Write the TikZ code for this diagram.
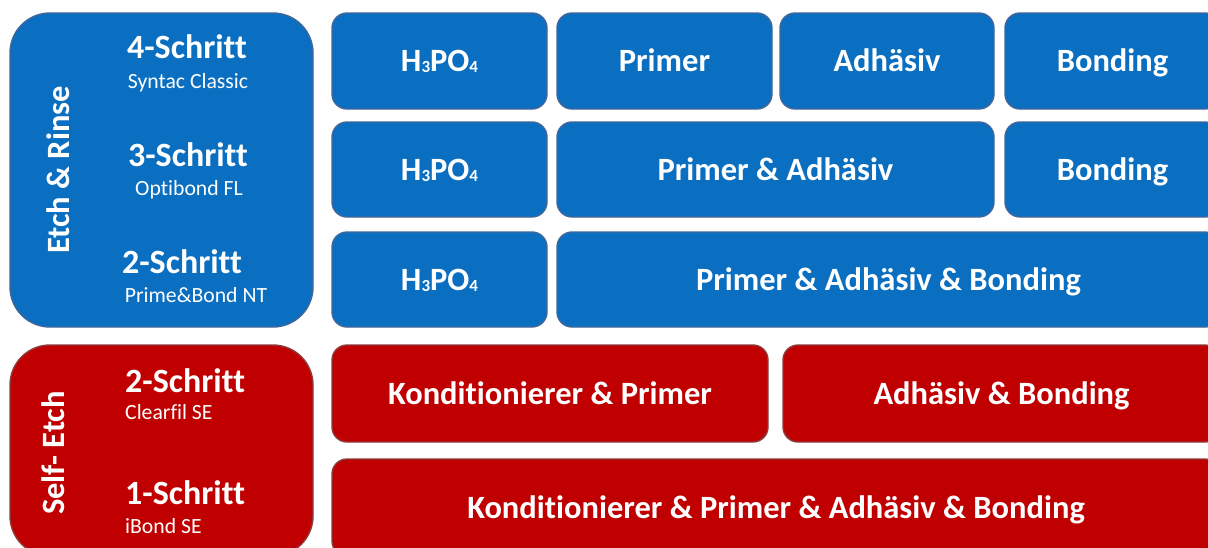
\documentclass[tikz,border=0pt]{standalone}
\usepackage{fontspec}
\setmainfont[Ligatures=NoCommon]{Carlito}
\definecolor{bfill}{HTML}{0B6FC1}
\definecolor{bline}{HTML}{41679A}
\definecolor{rfill}{HTML}{C00000}
\definecolor{rline}{HTML}{8E3B3B}
\newcommand{\hpo}{H\raisebox{-1pt}{\fontsize{17}{18}\selectfont 3}PO\raisebox{-1pt}{\fontsize{17}{18}\selectfont 4}}
\tikzset{
  boxbase/.style={rectangle, line width=1.4pt, inner sep=0pt, text=white,
    font=\fontsize{32.5}{34}\selectfont\bfseries, text height=21.5pt, text depth=0pt},
  bluebox/.style={boxbase, fill=bfill, draw=bline, rounded corners=15pt},
  redbox/.style={boxbase, fill=rfill, draw=rline, rounded corners=15pt},
  bigblue/.style={rectangle, line width=1.4pt, fill=bfill, draw=bline, rounded corners=40pt},
  bigred/.style={rectangle, line width=1.4pt, fill=rfill, draw=rline, rounded corners=40pt},
  head/.style={text=white, inner sep=0pt, anchor=base, font=\fontsize{34}{36}\selectfont\bfseries},
  sub/.style={text=white, inner sep=0pt, anchor=base, font=\fontsize{21.7}{23}\selectfont},
  vert/.style={text=white, inner sep=0pt, rotate=90, font=\fontsize{32.5}{34}\selectfont\bfseries},
}
\begin{document}
\begin{tikzpicture}[x=1pt,y=-1pt]
\useasboundingbox (0,0) rectangle (1208,547);
\clip (0,0) rectangle (1208,547);
\fill[white] (0,0) rectangle (1208,547);
% left group boxes
\draw[bigblue] (10,13) rectangle (313,327);
\node[inner sep=0pt, minimum width=303pt, minimum height=314pt] (er) at (161.5,170) {};
\draw[bigred] (10,345) rectangle (313,556);
\node[inner sep=0pt, minimum width=303pt, minimum height=211pt] (se) at (161.5,450.5) {};
\node[vert] (erlab) at (58,170) {Etch \& Rinse};
\node[vert] (selab) at (53,453) {Self- Etch};
\node[head] (s4) at (187,58) {4-Schritt};
\node[sub]  (s4p) at (188,88) {Syntac Classic};
\node[head] (s3) at (188,166) {3-Schritt};
\node[sub]  (s3p) at (189,195) {Optibond FL};
\node[head] (s2) at (182,273) {2-Schritt};
\node[sub]  (s2p) at (196,302) {Prime\&Bond NT};
\node[head, anchor=base west] (r2) at (125,392) {2-Schritt};
\node[sub, anchor=base west]  (r2p) at (125,419) {Clearfil SE};
\node[head, anchor=base west] (r1) at (125,504) {1-Schritt};
\node[sub, anchor=base west]  (r1p) at (125,533) {iBond SE};
% row 1
\node[bluebox, minimum width=215pt, minimum height=96pt] (a1) at (439.5,61) {\hpo};
\node[bluebox, minimum width=215pt, minimum height=96pt] (a2) at (664.5,61) {Primer};
\node[bluebox, minimum width=214pt, minimum height=96pt] (a3) at (887,61) {Adhäsiv};
\node[bluebox, minimum width=215pt, minimum height=96pt] (a4) at (1112.5,61) {Bonding};
% row 2
\node[bluebox, minimum width=215pt, minimum height=95pt] (b1) at (439.5,169.5) {\hpo};
\node[bluebox, minimum width=437pt, minimum height=95pt] (b2) at (775.5,169.5) {Primer \& Adhäsiv};
\node[bluebox, minimum width=215pt, minimum height=95pt] (b3) at (1112.5,169.5) {Bonding};
% row 3
\node[bluebox, minimum width=215pt, minimum height=95pt] (c1) at (439.5,279.5) {\hpo};
\node[bluebox, minimum width=663pt, minimum height=95pt] (c2) at (888.5,279.5) {Primer \& Adhäsiv \& Bonding};
% red row 1
\node[redbox, minimum width=436pt, minimum height=97pt] (d1) at (550,393.5) {Konditionierer \& Primer};
\node[redbox, minimum width=437pt, minimum height=97pt] (d2) at (1001.5,393.5) {Adhäsiv \& Bonding};
% red row 2
\node[redbox, minimum width=888pt, minimum height=97pt] (e1) at (776,507.5) {Konditionierer \& Primer \& Adhäsiv \& Bonding};
\end{tikzpicture}
\end{document}
